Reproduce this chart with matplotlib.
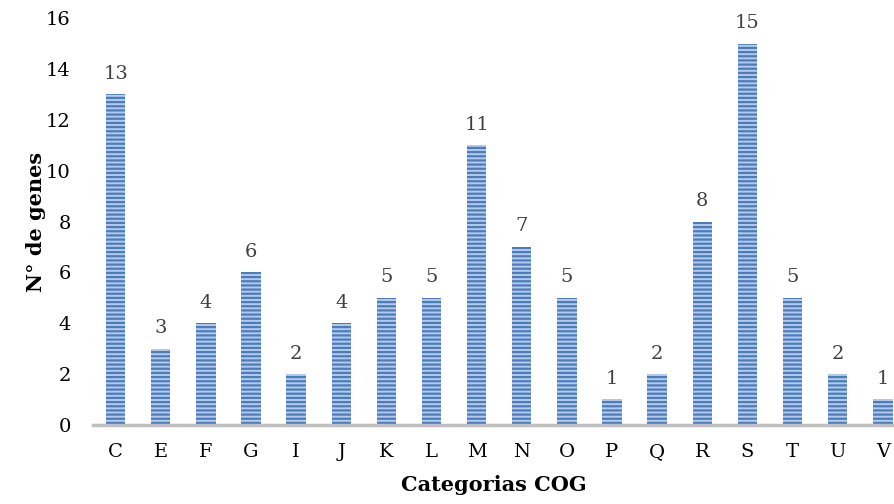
import matplotlib.pyplot as plt
import numpy as np

categorias = ['C', 'E', 'F', 'G', 'I', 'J', 'K', 'L', 'M', 'N', 'O', 'P', 'Q', 'R', 'S', 'T', 'U', 'V']
n_genes = [13, 3, 4, 6, 2, 4, 5, 5, 11, 7, 5, 1, 2, 8, 15, 5, 2, 1]

plt.rcParams['font.family'] = 'DejaVu Serif'
plt.rcParams['hatch.linewidth'] = 1.6

fig = plt.figure(figsize=(8.95, 5.04), dpi=100)
ax = fig.add_axes([0.104, 0.157, 0.896, 0.807])

x = np.arange(len(categorias))
bars = ax.bar(x, n_genes, width=0.43, color='#b7cbe8', edgecolor='#4a7dbd',
              linewidth=0, hatch='----', zorder=2)

for xi, v in zip(x, n_genes):
    ax.text(xi, v + 0.45, str(v), ha='center', va='bottom', fontsize=14, color='#404040')

ax.set_xlim(-0.5, 17.27)
ax.set_ylim(0, 16)
ax.set_yticks(range(0, 17, 2))
ax.set_xticks(x)
ax.set_xticklabels(categorias)
ax.tick_params(axis='both', length=0, labelsize=14)
ax.tick_params(axis='x', pad=13)
ax.tick_params(axis='y', pad=16)

for s in ['top', 'right', 'left']:
    ax.spines[s].set_visible(False)
ax.spines['bottom'].set_color('#bfbfbf')
ax.spines['bottom'].set_linewidth(2.5)
ax.spines['bottom'].set_zorder(3)

ax.set_xlabel('Categorias COG', fontsize=15, fontweight='bold', labelpad=10)
ax.set_ylabel('N° de genes', fontsize=15, fontweight='bold', labelpad=0)

plt.savefig('out.png', dpi=100)
